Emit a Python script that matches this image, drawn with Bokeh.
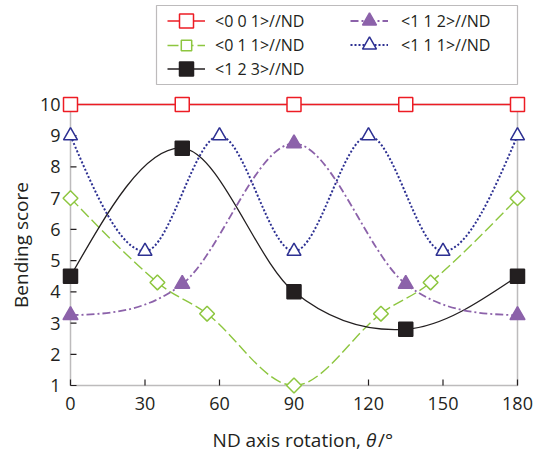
import numpy as np
from bokeh.plotting import figure
from bokeh.models import (Range1d, Legend, LegendItem, Label, LabelSet, BoxAnnotation,
                          ColumnDataSource)
from bokeh.core.properties import value
from bokeh.embed import file_html
from bokeh.resources import INLINE

# ---------------- data ----------------
theta_001 = [0, 45, 90, 135, 180]
score_001 = [10, 10, 10, 10, 10]
theta_011 = [0, 35, 55, 90, 125, 145, 180]
score_011 = [7.0, 4.3, 3.3, 1.0, 3.3, 4.3, 7.0]
theta_123 = [0, 45, 90, 135, 180]
score_123 = [4.5, 8.6, 4.0, 2.8, 4.5]
theta_112 = [0, 45, 90, 135, 180]
score_112 = [3.25, 4.25, 8.75, 4.25, 3.25]
theta_111 = [0, 30, 60, 90, 120, 150, 180]
score_111 = [9.0, 5.3, 9.0, 5.3, 9.0, 5.3, 9.0]

x_ticks = [0, 30, 60, 90, 120, 150, 180]
y_ticks = [1, 2, 3, 4, 5, 6, 7, 8, 9, 10]
series_labels = ["<0 0 1>//ND", "<0 1 1>//ND", "<1 2 3>//ND", "<1 1 2>//ND", "<1 1 1>//ND"]
y_axis_title = "Bending score"
x_axis_title_parts = ["ND axis rotation,", "θ", "/°"]

FONT = "Open Sans"
INK = "#231f20"
W, H = 538, 450
# plot-area box in canvas pixels (left, right, top, bottom)
BOX_L, BOX_R, BOX_T, BOX_B = 70, 517, 104, 385
# legend frame in canvas pixels
LEG_L, LEG_T, LEG_B = 156, 5, 84


def bezier_source(xs, ys):
    """Smooth cubic Hermite curve (natural ends) through the points, as Bezier segments."""
    x = np.asarray(xs, float)
    y = np.asarray(ys, float)
    d = np.diff(y) / np.diff(x)
    m = np.zeros_like(y)
    m[1:-1] = (y[2:] - y[:-2]) / (x[2:] - x[:-2])
    m[0] = (3 * d[0] - m[1]) / 2
    m[-1] = (3 * d[-1] - m[-2]) / 2
    h = np.diff(x)
    return ColumnDataSource(dict(
        x0=x[:-1], y0=y[:-1], x1=x[1:], y1=y[1:],
        cx0=x[:-1] + h / 3, cy0=y[:-1] + m[:-1] * h / 3,
        cx1=x[1:] - h / 3, cy1=y[1:] - m[1:] * h / 3,
    ))


xmin, xmax = x_ticks[0], x_ticks[-1]
ymin, ymax = y_ticks[0], y_ticks[-1]
kx = (BOX_R - BOX_L) / (xmax - xmin)
ky = (BOX_B - BOX_T) / (ymax - ymin)

p = figure(width=W, height=H,
           x_range=Range1d(xmin - BOX_L / kx, xmax + (W - BOX_R) / kx),
           y_range=Range1d(ymin - (H - BOX_B) / ky, ymax + BOX_T / ky),
           x_axis_type=None, y_axis_type=None,
           output_backend="svg", toolbar_location=None, min_border=0)
p.grid.visible = False
p.outline_line_color = None
p.background_fill_color = "white"
p.border_fill_color = "white"

# plot box (axes frame)
p.add_layout(BoxAnnotation(left=xmin, right=xmax, bottom=ymin, top=ymax,
                           fill_color=None, fill_alpha=0, line_color=INK, line_width=1.5))

# inward ticks
p.ray(x=x_ticks, y=[ymin] * len(x_ticks), length=6, length_units="screen",
      angle=np.pi / 2, line_color=INK, line_width=1.2)
p.ray(x=[xmin] * len(y_ticks), y=y_ticks, length=6, length_units="screen",
      angle=0, line_color=INK, line_width=1.2)

# tick labels
xl_src = ColumnDataSource(dict(x=x_ticks, y=[ymin] * len(x_ticks), t=[str(v) for v in x_ticks]))
p.add_layout(LabelSet(x="x", y="y", text="t", source=xl_src, y_offset=-24,
                      text_align="center", text_baseline="alphabetic",
                      text_font=value(FONT), text_font_size=value("18px"), text_color=INK))
yl_src = ColumnDataSource(dict(x=[xmin] * len(y_ticks), y=y_ticks, t=[str(v) for v in y_ticks]))
p.add_layout(LabelSet(x="x", y="y", text="t", source=yl_src, x_offset=-10,
                      text_align="right", text_baseline="middle",
                      text_font=value(FONT), text_font_size=value("18px"), text_color=INK))

# axis titles
p.add_layout(Label(x=xmin, y=(ymin + ymax) / 2, x_offset=-50, text=y_axis_title,
                   angle=np.pi / 2, text_align="center", text_baseline="middle",
                   text_font=FONT, text_font_size="19px", text_color=INK))
xmid = (xmin + xmax) / 2
common = dict(y=ymin, y_offset=-54, text_font=FONT, text_font_size="19px",
              text_color=INK, text_baseline="alphabetic")
p.add_layout(Label(x=xmid, x_offset=67, text=x_axis_title_parts[0], text_align="right", **common))
p.add_layout(Label(x=xmid, x_offset=72, text=x_axis_title_parts[1], text_align="left",
                   text_font_style="italic", **common))
p.add_layout(Label(x=xmid, x_offset=84, text=x_axis_title_parts[2], text_align="left", **common))

series = [
    dict(x=theta_001, y=score_001, color="#ed1c24", dash="solid", lw=1.5,
         marker="square", size=14, fill="white", angle=0.0),
    dict(x=theta_011, y=score_011, color="#8dc63f", dash="11 4", lw=1.4,
         marker="square", size=10.5, fill="white", angle=np.pi / 4),
    dict(x=theta_123, y=score_123, color=INK, dash="solid", lw=1.3,
         marker="square", size=14, fill=INK, angle=0.0),
    dict(x=theta_112, y=score_112, color="#8c62aa", dash="8 3 2 3", lw=1.8,
         marker="triangle", size=15, fill="#8c62aa", angle=0.0),
    dict(x=theta_111, y=score_111, color="#2d3092", dash="2 2", lw=2.0,
         marker="triangle", size=14, fill="white", angle=0.0),
]

legend_lines = []
for s in series:
    r = p.bezier(x0="x0", y0="y0", x1="x1", y1="y1", cx0="cx0", cy0="cy0",
                 cx1="cx1", cy1="cy1", source=bezier_source(s["x"], s["y"]),
                 line_color=s["color"], line_width=s["lw"], line_dash=s["dash"])
    r.level = "overlay"
    # one-point line (draws nothing in the plot) used for the legend swatch
    ll = p.line(x=s["x"][:1], y=s["y"][:1], line_color=s["color"], line_width=s["lw"],
                line_dash=s["dash"])
    legend_lines.append(ll)

marker_renderers = []
for s in series:
    r = p.scatter(x=s["x"], y=s["y"], marker=s["marker"], size=s["size"], angle=s["angle"],
                  fill_color=s["fill"], line_color=s["color"], line_width=1.5)
    r.level = "overlay"
    marker_renderers.append(r)

# legend frame
p.add_layout(BoxAnnotation(left=xmin + (LEG_L - BOX_L) / kx, right=xmax,
                           top=ymax + (BOX_T - LEG_T) / ky, bottom=ymax + (BOX_T - LEG_B) / ky,
                           fill_color="white", fill_alpha=1.0,
                           line_color=INK, line_width=1.2))

# one small legend per entry, laid out in two columns like the reference
leg_layout = [  # (left px, bottom offset px, glyph height px, label standoff)
    (167, 412, 35, 10),
    (167, 392, 26, 10),
    (167, 364, 35, 10),
    (350, 412, 35, 13),
    (350, 388, 35, 13),
]
for i, lab in enumerate(series_labels):
    lx, ly, gh, ls = leg_layout[i]
    item = LegendItem(label=lab, renderers=[legend_lines[i], marker_renderers[i]])
    p.add_layout(Legend(items=[item], location=(lx, ly), orientation="vertical",
                        glyph_width=38, glyph_height=gh, label_standoff=ls,
                        spacing=0, padding=0, margin=0,
                        label_text_font=FONT, label_text_font_size="16px",
                        label_text_color=INK, border_line_color=None,
                        background_fill_alpha=0.0))

open("out.html", "w").write(file_html(p, INLINE))
